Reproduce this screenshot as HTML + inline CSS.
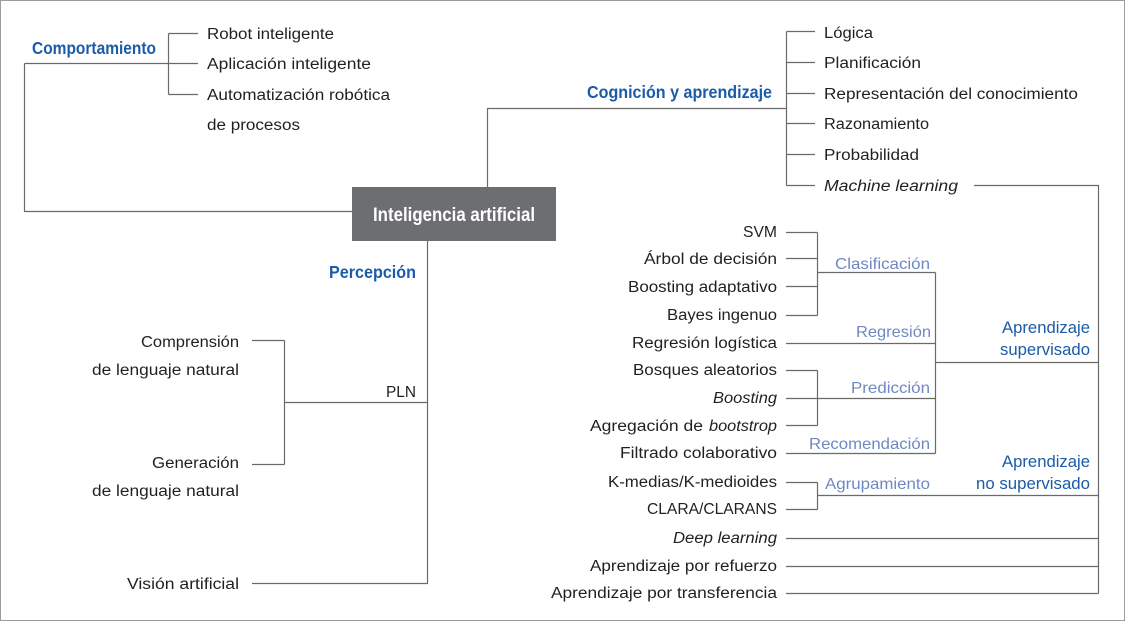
<!DOCTYPE html>
<html>
<head>
<meta charset="utf-8">
<style>
  html, body { margin:0; padding:0; background:#fff; }
  svg { display:block; }
  .t { font-family:"Liberation Sans", sans-serif; font-size:15.5px; fill:#231f20; }
  .i { font-style:italic; }
  .lb { font-family:"Liberation Sans", sans-serif; font-size:16px; fill:#6f88c2; }
  .db { font-family:"Liberation Sans", sans-serif; font-size:16.5px; fill:#1b5ba7; }
  .hb { font-family:"Liberation Sans", sans-serif; font-size:17.5px; font-weight:bold; fill:#1b5ba7; }
  .bx { font-family:"Liberation Sans", sans-serif; font-size:19px; font-weight:bold; fill:#ffffff; }
  .ln { fill:none; stroke:#6a6a6a; stroke-width:1.2; }
</style>
</head>
<body>
<svg width="1125" height="621" viewBox="0 0 1125 621" xmlns="http://www.w3.org/2000/svg">
  <rect x="0.5" y="0.5" width="1124" height="620" fill="#fff" stroke="#9c9c9c" stroke-width="1"/>

  <!-- connectors -->
  <g class="ln">
    <!-- Comportamiento -->
    <path d="M24.5,63.5 H168.5"/>
    <path d="M168.5,33.5 V94.5"/>
    <path d="M168.5,33.5 H198"/>
    <path d="M168.5,63.5 H198"/>
    <path d="M168.5,94.5 H198"/>
    <path d="M24.5,63.5 V211.5 H352"/>
    <!-- Cognición -->
    <path d="M487.5,187 V108.5 H786.5"/>
    <path d="M786.5,31.5 V185.5"/>
    <path d="M786.5,31.5 H815"/>
    <path d="M786.5,62.5 H815"/>
    <path d="M786.5,93.5 H815"/>
    <path d="M786.5,123.5 H815"/>
    <path d="M786.5,154.5 H815"/>
    <path d="M786.5,185.5 H815"/>
    <!-- Machine learning trunk -->
    <path d="M974,185.5 H1098.5 V593.5"/>
    <!-- Clasificación -->
    <path d="M786,232.5 H817.5"/>
    <path d="M786,258.5 H817.5"/>
    <path d="M786,286.5 H817.5"/>
    <path d="M786,315.5 H817.5"/>
    <path d="M817.5,232.5 V315.5"/>
    <path d="M817.5,272.5 H935.5"/>
    <!-- Regresión -->
    <path d="M786,343.5 H935.5"/>
    <!-- Predicción -->
    <path d="M786,370.5 H817.5"/>
    <path d="M786,398.5 H935.5"/>
    <path d="M786,425.5 H817.5"/>
    <path d="M817.5,370.5 V425.5"/>
    <!-- Recomendación -->
    <path d="M786,453.5 H935.5"/>
    <path d="M935.5,272.5 V453.5"/>
    <path d="M935.5,362.5 H1098.5"/>
    <!-- Agrupamiento -->
    <path d="M786,482.5 H817.5"/>
    <path d="M786,509.5 H817.5"/>
    <path d="M817.5,482.5 V509.5"/>
    <path d="M817.5,495.5 H1098.5"/>
    <!-- others -->
    <path d="M786,538.5 H1098.5"/>
    <path d="M786,566.5 H1098.5"/>
    <path d="M786,593.5 H1098.5"/>
    <!-- Percepción -->
    <path d="M427.5,241 V583.5 H252"/>
    <path d="M427.5,402.5 H284.5"/>
    <path d="M284.5,340.5 V464.5"/>
    <path d="M252,340.5 H284.5"/>
    <path d="M252,464.5 H284.5"/>
  </g>

  <!-- central box -->
  <rect x="352" y="187" width="204" height="54" fill="#6d6e71"/>
  <text class="bx" x="373" y="221" textLength="162" lengthAdjust="spacingAndGlyphs">Inteligencia artificial</text>

  <!-- headings -->
  <text class="hb" x="32" y="54" textLength="124" lengthAdjust="spacingAndGlyphs">Comportamiento</text>
  <text class="hb" x="587" y="98" textLength="185" lengthAdjust="spacingAndGlyphs">Cognición y aprendizaje</text>
  <text class="hb" x="329" y="278" textLength="87" lengthAdjust="spacingAndGlyphs">Percepción</text>

  <!-- Comportamiento children -->
  <text class="t" x="207" y="39" textLength="127" lengthAdjust="spacingAndGlyphs">Robot inteligente</text>
  <text class="t" x="207" y="69" textLength="164" lengthAdjust="spacingAndGlyphs">Aplicación inteligente</text>
  <text class="t" x="207" y="100" textLength="183" lengthAdjust="spacingAndGlyphs">Automatización robótica</text>
  <text class="t" x="207" y="130" textLength="93" lengthAdjust="spacingAndGlyphs">de procesos</text>

  <!-- Cognición children -->
  <text class="t" x="824" y="38" textLength="49" lengthAdjust="spacingAndGlyphs">Lógica</text>
  <text class="t" x="824" y="68" textLength="97" lengthAdjust="spacingAndGlyphs">Planificación</text>
  <text class="t" x="824" y="99" textLength="254" lengthAdjust="spacingAndGlyphs">Representación del conocimiento</text>
  <text class="t" x="824" y="129" textLength="105" lengthAdjust="spacingAndGlyphs">Razonamiento</text>
  <text class="t" x="824" y="160" textLength="95" lengthAdjust="spacingAndGlyphs">Probabilidad</text>
  <text class="t i" x="824" y="191" textLength="134" lengthAdjust="spacingAndGlyphs">Machine learning</text>

  <!-- ML leaves -->
  <text class="t" x="743" y="237" textLength="34" lengthAdjust="spacingAndGlyphs">SVM</text>
  <text class="t" x="644" y="264" textLength="133" lengthAdjust="spacingAndGlyphs">Árbol de decisión</text>
  <text class="t" x="628" y="292" textLength="149" lengthAdjust="spacingAndGlyphs">Boosting adaptativo</text>
  <text class="t" x="667" y="320" textLength="110" lengthAdjust="spacingAndGlyphs">Bayes ingenuo</text>
  <text class="t" x="632" y="348" textLength="145" lengthAdjust="spacingAndGlyphs">Regresión logística</text>
  <text class="t" x="633" y="375" textLength="144" lengthAdjust="spacingAndGlyphs">Bosques aleatorios</text>
  <text class="t i" x="713" y="403" textLength="64" lengthAdjust="spacingAndGlyphs">Boosting</text>
  <text class="t" x="590" y="431" textLength="113" lengthAdjust="spacingAndGlyphs">Agregación de</text>
  <text class="t i" x="709" y="431" textLength="68" lengthAdjust="spacingAndGlyphs">bootstrop</text>
  <text class="t" x="620" y="458" textLength="157" lengthAdjust="spacingAndGlyphs">Filtrado colaborativo</text>
  <text class="t" x="608" y="487" textLength="169" lengthAdjust="spacingAndGlyphs">K-medias/K-medioides</text>
  <text class="t" x="647" y="514" textLength="130" lengthAdjust="spacingAndGlyphs">CLARA/CLARANS</text>
  <text class="t i" x="673" y="543" textLength="104" lengthAdjust="spacingAndGlyphs">Deep learning</text>
  <text class="t" x="590" y="571" textLength="187" lengthAdjust="spacingAndGlyphs">Aprendizaje por refuerzo</text>
  <text class="t" x="551" y="598" textLength="226" lengthAdjust="spacingAndGlyphs">Aprendizaje por transferencia</text>

  <!-- light blue category labels -->
  <text class="lb" x="835" y="269" textLength="95" lengthAdjust="spacingAndGlyphs">Clasificación</text>
  <text class="lb" x="856" y="337" textLength="75" lengthAdjust="spacingAndGlyphs">Regresión</text>
  <text class="lb" x="851" y="393" textLength="79" lengthAdjust="spacingAndGlyphs">Predicción</text>
  <text class="lb" x="809" y="449" textLength="121" lengthAdjust="spacingAndGlyphs">Recomendación</text>
  <text class="lb" x="825" y="489" textLength="105" lengthAdjust="spacingAndGlyphs">Agrupamiento</text>

  <!-- dark blue group labels -->
  <text class="db" x="1002" y="333" textLength="88" lengthAdjust="spacingAndGlyphs">Aprendizaje</text>
  <text class="db" x="1000" y="355" textLength="90" lengthAdjust="spacingAndGlyphs">supervisado</text>
  <text class="db" x="1002" y="467" textLength="88" lengthAdjust="spacingAndGlyphs">Aprendizaje</text>
  <text class="db" x="976" y="489" textLength="114" lengthAdjust="spacingAndGlyphs">no supervisado</text>

  <!-- Percepción children -->
  <text class="t" x="141" y="347" textLength="98" lengthAdjust="spacingAndGlyphs">Comprensión</text>
  <text class="t" x="92" y="375" textLength="147" lengthAdjust="spacingAndGlyphs">de lenguaje natural</text>
  <text class="t" x="152" y="468" textLength="87" lengthAdjust="spacingAndGlyphs">Generación</text>
  <text class="t" x="92" y="496" textLength="147" lengthAdjust="spacingAndGlyphs">de lenguaje natural</text>
  <text class="t" x="127" y="589" textLength="112" lengthAdjust="spacingAndGlyphs">Visión artificial</text>
  <text class="t" x="386" y="397" textLength="30" lengthAdjust="spacingAndGlyphs">PLN</text>
</svg>
</body>
</html>
